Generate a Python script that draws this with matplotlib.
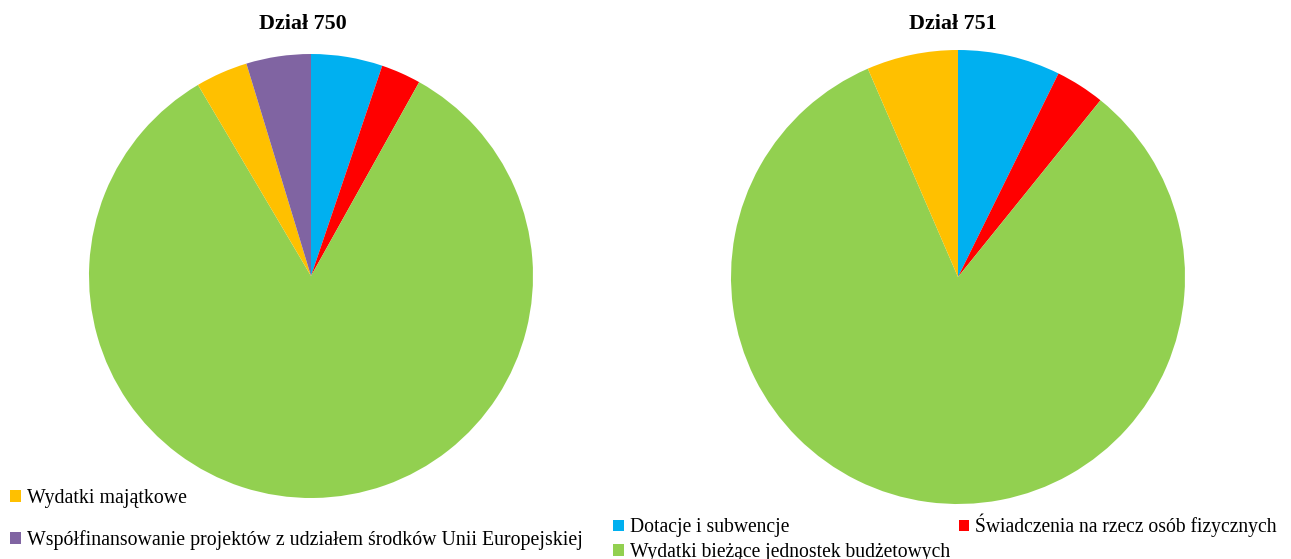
import matplotlib.pyplot as plt

plt.rcParams['font.family'] = ['Liberation Serif', 'DejaVu Serif']

# kategorie wydatków
categories = [
    "Dotacje i subwencje",
    "Świadczenia na rzecz osób fizycznych",
    "Wydatki bieżące jednostek budżetowych",
    "Wydatki majątkowe",
    "Współfinansowanie projektów z udziałem środków Unii Europejskiej",
]
colors = ["#00B0F0", "#FF0000", "#92D050", "#FFC000", "#8064A2"]

# udziały (%)
dzial_750 = [5.2, 2.9, 83.4, 3.8, 4.7]
dzial_751 = [7.3, 3.5, 82.7, 6.5]

W, H = 1291, 559
fig = plt.figure(figsize=(W / 100, H / 100), dpi=100)


def pie_axes(cx, cy, r):
    # cx, cy, r w pikselach (y od góry)
    return fig.add_axes([(cx - r) / W, (H - cy - r) / H, 2 * r / W, 2 * r / H])


ax1 = pie_axes(311, 276, 222)
w1, _ = ax1.pie(dzial_750, colors=colors[:len(dzial_750)], startangle=90,
                counterclock=False, radius=1)
ax1.set_xlim(-1, 1)
ax1.set_ylim(-1, 1)

ax2 = pie_axes(958, 277, 227)
w2, _ = ax2.pie(dzial_751, colors=colors[:len(dzial_751)], startangle=90,
                counterclock=False, radius=1)
ax2.set_xlim(-1, 1)
ax2.set_ylim(-1, 1)

fig.text(303 / W, 1 - 24 / H, "Dział 750", ha="center", va="center",
         fontsize=15.8, fontweight="bold")
fig.text(953 / W, 1 - 24 / H, "Dział 751", ha="center", va="center",
         fontsize=15.8, fontweight="bold")

# legenda lewa (widoczne tylko dwie pozycje)
fig.legend([w1[3], w1[4]], [categories[3], categories[4]],
           loc="upper left", bbox_to_anchor=(4 / W, 1 - 483 / H),
           frameon=False, fontsize=14.3, handlelength=0.55, handleheight=0.55,
           handletextpad=0.3, labelspacing=1.1, borderaxespad=0, borderpad=0.3)

# legenda prawa
fig.legend([w2[0], w2[2], w2[1]], [categories[0], categories[2], categories[1]],
           ncol=2, loc="upper left", bbox_to_anchor=(607 / W, 1 - 508 / H),
           frameon=False, fontsize=14.1, handlelength=0.55, handleheight=0.55,
           handletextpad=0.3, labelspacing=0.3, columnspacing=0.45,
           borderaxespad=0, borderpad=0.3)

fig.savefig("out.png", dpi=100)
